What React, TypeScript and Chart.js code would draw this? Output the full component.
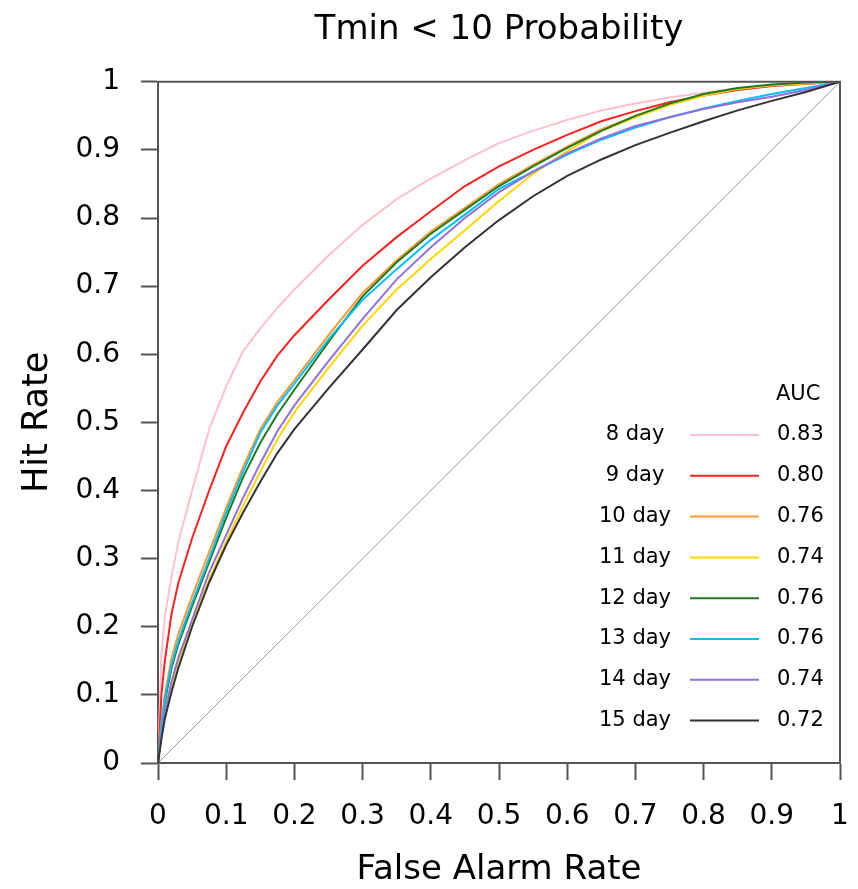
import React, { useEffect, useRef } from "react";
import { Chart, registerables } from "chart.js";

Chart.register(...registerables);

const chartTitle = "Tmin < 10 Probability";
const xTitle = "False Alarm Rate";
const yTitle = "Hit Rate";
const tickLabels = ["0", "0.1", "0.2", "0.3", "0.4", "0.5", "0.6", "0.7", "0.8", "0.9", "1"];

const far = [0, 0.005, 0.01, 0.02, 0.03, 0.05, 0.075, 0.1, 0.125, 0.15, 0.175, 0.2, 0.25, 0.3, 0.35, 0.4, 0.45, 0.5, 0.55, 0.6, 0.65, 0.7, 0.75, 0.8, 0.85, 0.9, 0.95, 1];

const hit8 = [0, 0.16, 0.215, 0.275, 0.325, 0.40, 0.49, 0.553, 0.605, 0.638, 0.668, 0.695, 0.745, 0.79, 0.828, 0.858, 0.885, 0.91, 0.928, 0.944, 0.958, 0.968, 0.977, 0.984, 0.99, 0.994, 0.997, 1];
const hit9 = [0, 0.10, 0.15, 0.22, 0.265, 0.33, 0.40, 0.465, 0.515, 0.56, 0.598, 0.628, 0.68, 0.73, 0.772, 0.81, 0.847, 0.876, 0.9, 0.922, 0.942, 0.957, 0.97, 0.98, 0.988, 0.994, 0.997, 1];
const hit10 = [0, 0.06, 0.10, 0.155, 0.19, 0.245, 0.31, 0.375, 0.435, 0.49, 0.53, 0.562, 0.628, 0.69, 0.738, 0.78, 0.815, 0.85, 0.878, 0.905, 0.93, 0.95, 0.967, 0.98, 0.989, 0.995, 0.998, 1];
const hit11 = [0, 0.04, 0.07, 0.115, 0.15, 0.205, 0.27, 0.325, 0.378, 0.428, 0.475, 0.515, 0.58, 0.642, 0.695, 0.74, 0.782, 0.825, 0.865, 0.898, 0.928, 0.948, 0.966, 0.98, 0.99, 0.995, 0.998, 1];
const hit12 = [0, 0.05, 0.09, 0.14, 0.175, 0.23, 0.295, 0.36, 0.42, 0.47, 0.512, 0.548, 0.618, 0.685, 0.735, 0.777, 0.812, 0.847, 0.876, 0.903, 0.928, 0.95, 0.968, 0.982, 0.991, 0.996, 0.999, 1];
const hit13 = [0, 0.055, 0.095, 0.145, 0.18, 0.235, 0.30, 0.368, 0.428, 0.485, 0.525, 0.557, 0.622, 0.68, 0.725, 0.768, 0.805, 0.843, 0.868, 0.893, 0.915, 0.933, 0.948, 0.961, 0.972, 0.982, 0.991, 1];
const hit14 = [0, 0.04, 0.075, 0.12, 0.155, 0.21, 0.28, 0.335, 0.39, 0.44, 0.487, 0.525, 0.59, 0.652, 0.71, 0.757, 0.8, 0.838, 0.868, 0.895, 0.917, 0.935, 0.948, 0.96, 0.97, 0.978, 0.988, 1];
const hit15 = [0, 0.035, 0.065, 0.105, 0.14, 0.2, 0.265, 0.32, 0.368, 0.413, 0.455, 0.49, 0.55, 0.607, 0.665, 0.713, 0.757, 0.797, 0.832, 0.862, 0.886, 0.907, 0.925, 0.942, 0.958, 0.972, 0.985, 1];

const seriesNames = ["8 day", "9 day", "10 day", "11 day", "12 day", "13 day", "14 day", "15 day"];
const aucValues = ["0.83", "0.80", "0.76", "0.74", "0.76", "0.76", "0.74", "0.72"];
const seriesHits = [hit8, hit9, hit10, hit11, hit12, hit13, hit14, hit15];
const seriesColors = ["#FFC0CB", "#FF2020", "#FF9933", "#FFD700", "#1F7A1F", "#00BFFF", "#9370DB", "#333333"];

const diagonal = [0, 1];

const FONT = "'DejaVu Sans', 'Liberation Sans', sans-serif";
const FRAME = "#555555";

const framePlugin = {
  id: "frameTop",
  afterDatasetsDraw(chart: any) {
    const { ctx, chartArea } = chart;
    ctx.save();
    ctx.strokeStyle = FRAME;
    ctx.lineWidth = 2;
    ctx.beginPath();
    ctx.moveTo(chartArea.left, chartArea.top);
    ctx.lineTo(chartArea.right, chartArea.top);
    ctx.lineTo(chartArea.right, chartArea.bottom);
    ctx.stroke();
    ctx.restore();
  },
};

const aucLegendPlugin = {
  id: "aucLegend",
  afterDraw(chart: any) {
    const { ctx } = chart;
    ctx.save();
    ctx.font = `21px ${FONT}`;
    ctx.fillStyle = "#000";
    ctx.textBaseline = "middle";
    ctx.textAlign = "left";
    ctx.fillText("AUC", 776, 395);
    seriesNames.forEach((name, i) => {
      const y = 435 + i * 40.8;
      ctx.textAlign = "center";
      ctx.fillStyle = "#000";
      ctx.fillText(name, 635, y);
      ctx.textAlign = "left";
      ctx.fillText(aucValues[i], 777, y);
      ctx.strokeStyle = seriesColors[i];
      ctx.lineWidth = 2;
      ctx.beginPath();
      ctx.moveTo(690, y);
      ctx.lineTo(759, y);
      ctx.stroke();
    });
    ctx.restore();
  },
};

export default function App() {
  const ref = useRef<HTMLCanvasElement | null>(null);
  useEffect(() => {
    document.body.style.margin = "0";
    const canvas = ref.current;
    if (!canvas) return;
    const datasets: any[] = seriesHits.map((hits, i) => ({
      label: seriesNames[i],
      data: far.map((x, k) => ({ x, y: hits[k] })),
      borderColor: seriesColors[i],
      backgroundColor: seriesColors[i],
      borderWidth: 2,
      pointRadius: 0,
      tension: 0,
      fill: false,
      order: 8 - i,
    }));
    datasets.push({
      label: "diag",
      data: diagonal.map((v) => ({ x: v, y: v })),
      borderColor: "#9a9a9a",
      borderWidth: 1,
      pointRadius: 0,
      fill: false,
      order: 100,
    });
    const chart = new Chart(canvas, {
      type: "line",
      data: { datasets },
      options: {
        responsive: false,
        animation: false,
        devicePixelRatio: 1,
        layout: { padding: { left: 0, right: 0, top: 0, bottom: 0 } },
        plugins: {
          legend: { display: false },
          tooltip: { enabled: false },
          title: {
            display: true,
            fullSize: false,
            text: chartTitle,
            color: "#000",
            font: { family: FONT, size: 34, weight: "normal" },
            padding: { top: 10, bottom: 31 },
          },
        },
        scales: {
          x: {
            type: "linear",
            min: 0,
            max: 1,
            afterFit(scale: any) {
              scale.height = 126;
              scale.paddingRight = 18;
              scale.paddingLeft = 0;
            },
            ticks: {
              stepSize: 0.1,
              color: "#000",
              font: { family: FONT, size: 28 },
              padding: 20,
              maxRotation: 0,
              autoSkip: false,
              callback: (_v: any, i: number) => tickLabels[i],
            },
            grid: {
              display: true,
              drawOnChartArea: false,
              drawTicks: true,
              tickLength: 17,
              tickWidth: 2,
              tickColor: FRAME,
            },
            border: { display: true, color: FRAME, width: 2 },
            title: {
              display: true,
              text: xTitle,
              color: "#000",
              font: { family: FONT, size: 34, lineHeight: 1.08 },
              padding: { top: 0, bottom: 0 },
            },
          },
          y: {
            type: "linear",
            min: 0,
            max: 1,
            afterFit(scale: any) {
              scale.width = 158;
            },
            ticks: {
              stepSize: 0.1,
              color: "#000",
              font: { family: FONT, size: 28 },
              padding: 21,
              autoSkip: false,
              callback: (_v: any, i: number) => tickLabels[i],
            },
            grid: {
              display: true,
              drawOnChartArea: false,
              drawTicks: true,
              tickLength: 17,
              tickWidth: 2,
              tickColor: FRAME,
            },
            border: { display: true, color: FRAME, width: 2 },
            title: {
              display: true,
              text: yTitle,
              color: "#000",
              font: { family: FONT, size: 35 },
              padding: { top: 17, bottom: 0 },
            },
          },
        },
      },
      plugins: [framePlugin, aucLegendPlugin],
    } as any);
    return () => chart.destroy();
  }, []);
  return (
    <div style={{ width: 858, height: 889 }}>
      <canvas ref={ref} width={858} height={889} style={{ display: "block" }} />
    </div>
  );
}
